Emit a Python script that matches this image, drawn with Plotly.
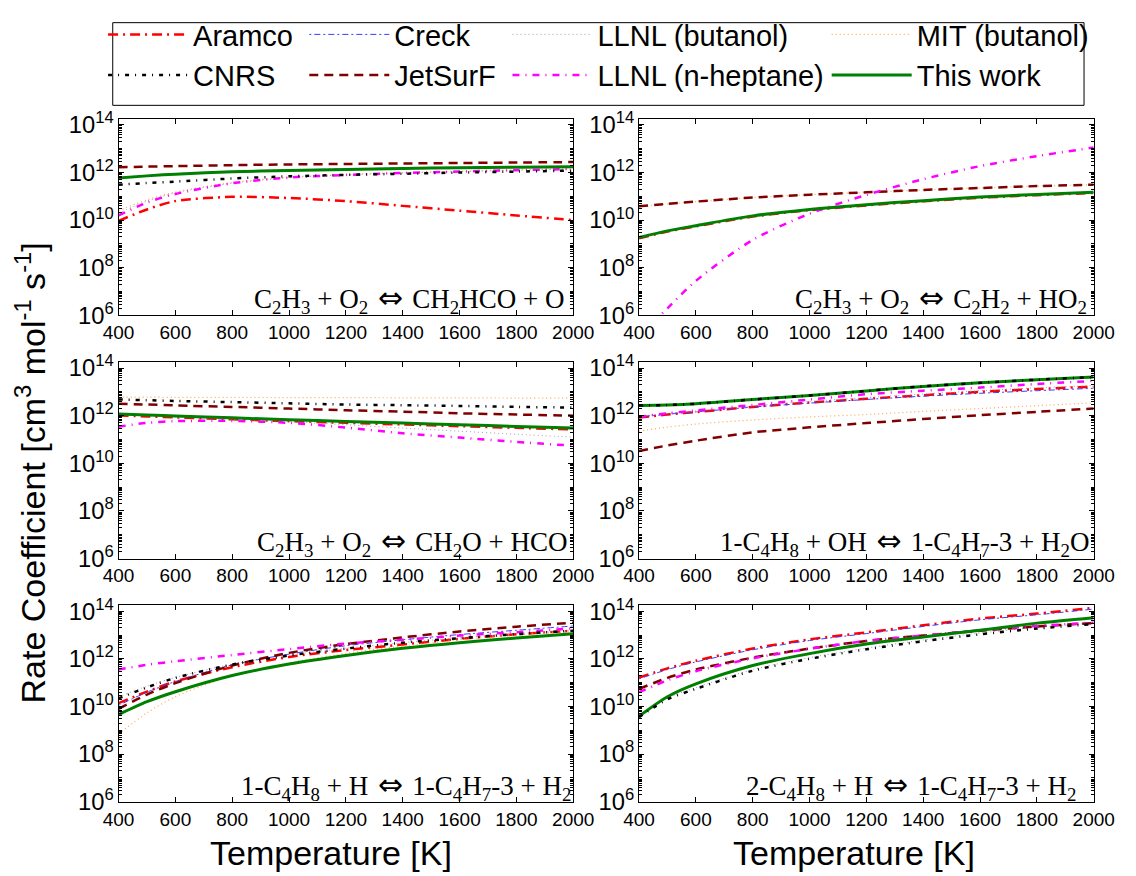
import plotly.graph_objects as go

W, H = 1136, 876

# Temperature grid [K]
T = [400, 500, 600, 800, 1000, 1200, 1400, 1600, 1800, 2000]

# log10 of rate coefficients [cm3 mol-1 s-1] on the grid T
# --- C2H3 + O2 <=> CH2HCO + O
p1_aramco = [9.97, 10.45, 10.80, 10.98, 10.93, 10.80, 10.60, 10.40, 10.20, 10.00]
p1_creck = [11.79, 11.88, 11.95, 12.05, 12.11, 12.15, 12.19, 12.22, 12.24, 12.26]
p1_llnl_but = [10.30, 10.80, 11.15, 11.55, 11.78, 11.90, 11.98, 12.04, 12.10, 12.14]
p1_mit = [10.40, 10.85, 11.18, 11.58, 11.80, 11.92, 12.00, 12.06, 12.11, 12.15]
p1_cnrs = [11.49, 11.56, 11.62, 11.75, 11.84, 11.90, 11.95, 12.00, 12.04, 12.08]
p1_jetsurf = [12.22, 12.25, 12.27, 12.31, 12.34, 12.36, 12.38, 12.40, 12.42, 12.44]
p1_llnl_hep = [10.20, 10.74, 11.10, 11.55, 11.79, 11.90, 11.98, 12.04, 12.10, 12.15]
p1_this = [11.77, 11.86, 11.93, 12.03, 12.09, 12.13, 12.17, 12.20, 12.22, 12.24]

# --- C2H3 + O2 <=> C2H2 + HO2
p2_aramco = [9.24, 9.52, 9.74, 10.15, 10.42, 10.62, 10.79, 10.94, 11.05, 11.14]
p2_creck = [9.27, 9.55, 9.77, 10.18, 10.45, 10.65, 10.82, 10.97, 11.08, 11.17]
p2_llnl_but = [9.27, 9.55, 9.77, 10.18, 10.45, 10.65, 10.82, 10.97, 11.08, 11.17]
p2_mit = [10.58, 10.68, 10.78, 10.95, 11.07, 11.17, 11.27, 11.35, 11.43, 11.49]
p2_cnrs = None
p2_jetsurf = [10.58, 10.68, 10.78, 10.95, 11.07, 11.17, 11.27, 11.35, 11.43, 11.49]
p2_llnl_hep = [5.10, 6.30, 7.45, 9.17, 10.27, 11.06, 11.72, 12.27, 12.69, 13.05]
p2_this = [9.27, 9.55, 9.77, 10.18, 10.45, 10.65, 10.82, 10.97, 11.08, 11.17]

# --- C2H3 + O2 <=> CH2O + HCO
p3_aramco = [12.01, 11.97, 11.93, 11.85, 11.77, 11.70, 11.63, 11.56, 11.49, 11.42]
p3_creck = [12.07, 12.03, 11.99, 11.91, 11.83, 11.76, 11.69, 11.62, 11.55, 11.48]
p3_llnl_but = [12.05, 12.00, 11.95, 11.86, 11.75, 11.62, 11.48, 11.35, 11.22, 11.10]
p3_mit = [12.78, 12.78, 12.77, 12.77, 12.76, 12.76, 12.75, 12.75, 12.74, 12.74]
p3_cnrs = [12.68, 12.65, 12.62, 12.57, 12.52, 12.47, 12.44, 12.41, 12.37, 12.34]
p3_jetsurf = [12.50, 12.47, 12.43, 12.37, 12.30, 12.23, 12.17, 12.10, 12.05, 12.00]
p3_llnl_hep = [11.54, 11.70, 11.77, 11.78, 11.70, 11.50, 11.26, 11.08, 10.90, 10.74]
p3_this = [12.07, 12.03, 11.99, 11.91, 11.83, 11.76, 11.69, 11.62, 11.55, 11.48]

# --- 1-C4H8 + OH <=> 1-C4H7-3 + H2O
p4_aramco = [11.92, 12.05, 12.15, 12.37, 12.55, 12.71, 12.86, 13.00, 13.12, 13.22]
p4_creck = [11.95, 12.06, 12.16, 12.36, 12.53, 12.68, 12.82, 12.94, 13.05, 13.15]
p4_llnl_but = [11.97, 12.10, 12.20, 12.42, 12.60, 12.76, 12.91, 13.05, 13.17, 13.27]
p4_mit = [11.35, 11.52, 11.65, 11.82, 11.95, 12.05, 12.18, 12.30, 12.42, 12.54]
p4_cnrs = [12.43, 12.45, 12.50, 12.68, 12.85, 13.04, 13.23, 13.38, 13.51, 13.62]
p4_jetsurf = [10.52, 10.75, 10.95, 11.30, 11.51, 11.69, 11.86, 12.02, 12.16, 12.30]
p4_llnl_hep = [11.95, 12.10, 12.22, 12.45, 12.68, 12.90, 13.05, 13.18, 13.33, 13.46]
p4_this = [12.43, 12.45, 12.50, 12.68, 12.85, 13.04, 13.23, 13.38, 13.51, 13.62]

# --- 1-C4H8 + H <=> 1-C4H7-3 + H2
p5_aramco = [10.14, 10.62, 11.05, 11.65, 12.08, 12.37, 12.60, 12.84, 13.03, 13.18]
p5_creck = [10.05, 10.60, 11.05, 11.75, 12.20, 12.55, 12.80, 13.02, 13.20, 13.38]
p5_llnl_but = [10.40, 10.85, 11.22, 11.78, 12.16, 12.45, 12.68, 12.88, 13.05, 13.20]
p5_mit = [8.85, 9.73, 10.41, 11.29, 11.83, 12.23, 12.54, 12.80, 13.00, 13.14]
p5_cnrs = [10.34, 10.80, 11.20, 11.76, 12.14, 12.43, 12.68, 12.87, 13.04, 13.18]
p5_jetsurf = [9.90, 10.50, 10.98, 11.72, 12.25, 12.62, 12.90, 13.15, 13.35, 13.52]
p5_llnl_hep = [11.55, 11.75, 11.90, 12.16, 12.41, 12.64, 12.80, 12.98, 13.12, 13.28]
p5_this = [9.66, 10.20, 10.62, 11.30, 11.78, 12.14, 12.44, 12.68, 12.87, 13.05]

# --- 2-C4H8 + H <=> 1-C4H7-3 + H2
p6_aramco = [11.21, 11.60, 11.92, 12.43, 12.82, 13.11, 13.41, 13.69, 13.90, 14.14]
p6_creck = [11.16, 11.55, 11.87, 12.38, 12.77, 13.06, 13.36, 13.64, 13.85, 14.09]
p6_llnl_but = [9.62, 10.35, 10.79, 11.55, 12.05, 12.45, 12.79, 13.08, 13.32, 13.51]
p6_mit = [9.56, 10.38, 10.92, 11.69, 12.19, 12.59, 12.89, 13.17, 13.47, 13.70]
p6_cnrs = [9.55, 10.30, 10.74, 11.50, 12.00, 12.40, 12.74, 13.03, 13.27, 13.46]
p6_jetsurf = [10.74, 11.20, 11.55, 12.05, 12.43, 12.75, 12.98, 13.18, 13.36, 13.50]
p6_llnl_hep = [10.60, 11.10, 11.48, 12.02, 12.42, 12.75, 12.98, 13.20, 13.38, 13.52]
p6_this = [9.59, 10.41, 10.95, 11.72, 12.22, 12.62, 12.92, 13.20, 13.50, 13.73]

ARROW = '<span style="font-family:DejaVu Sans;font-size:30px"> \u21d4 </span>'
reactions = [
    "C<sub>2</sub>H<sub>3</sub> + O<sub>2</sub>" + ARROW + "CH<sub>2</sub>HCO + O",
    "C<sub>2</sub>H<sub>3</sub> + O<sub>2</sub>" + ARROW + "C<sub>2</sub>H<sub>2</sub> + HO<sub>2</sub>",
    "C<sub>2</sub>H<sub>3</sub> + O<sub>2</sub>" + ARROW + "CH<sub>2</sub>O + HCO",
    "1-C<sub>4</sub>H<sub>8</sub> + OH" + ARROW + "1-C<sub>4</sub>H<sub>7</sub>-3 + H<sub>2</sub>O",
    "1-C<sub>4</sub>H<sub>8</sub> + H" + ARROW + "1-C<sub>4</sub>H<sub>7</sub>-3 + H<sub>2</sub>",
    "2-C<sub>4</sub>H<sub>8</sub> + H" + ARROW + "1-C<sub>4</sub>H<sub>7</sub>-3 + H<sub>2</sub>",
]

mechanisms = ["Aramco", "Creck", "LLNL (butanol)", "MIT (butanol)",
              "CNRS", "JetSurF", "LLNL (n-heptane)", "This work"]

panels = [
    [p1_aramco, p1_creck, p1_llnl_but, p1_mit, p1_cnrs, p1_jetsurf, p1_llnl_hep, p1_this],
    [p2_aramco, p2_creck, p2_llnl_but, p2_mit, p2_cnrs, p2_jetsurf, p2_llnl_hep, p2_this],
    [p3_aramco, p3_creck, p3_llnl_but, p3_mit, p3_cnrs, p3_jetsurf, p3_llnl_hep, p3_this],
    [p4_aramco, p4_creck, p4_llnl_but, p4_mit, p4_cnrs, p4_jetsurf, p4_llnl_hep, p4_this],
    [p5_aramco, p5_creck, p5_llnl_but, p5_mit, p5_cnrs, p5_jetsurf, p5_llnl_hep, p5_this],
    [p6_aramco, p6_creck, p6_llnl_but, p6_mit, p6_cnrs, p6_jetsurf, p6_llnl_hep, p6_this],
]

line_style = {
    "Aramco": dict(color="#FF0000", width=2.5, dash="10px,5px,2px,5px"),
    "Creck": dict(color="#3C3CFF", width=1, dash="2px,3px,6px,3px"),
    "LLNL (butanol)": dict(color="#9C9CB8", width=1, dash="1px,3px"),
    "MIT (butanol)": dict(color="#FFA54F", width=1.2, dash="1px,3px"),
    "CNRS": dict(color="#000000", width=2.5, dash="4px,6px,1px,6px"),
    "JetSurF": dict(color="#800000", width=2.5, dash="9px,6px"),
    "LLNL (n-heptane)": dict(color="#FF00FF", width=2.5, dash="7px,6px,1px,6px"),
    "This work": dict(color="#008000", width=3, dash="solid"),
}

# legend column / row for each mechanism
legend_slot = {
    "Aramco": ("legend", 1), "CNRS": ("legend", 2),
    "Creck": ("legend2", 1), "JetSurF": ("legend2", 2),
    "LLNL (butanol)": ("legend3", 1), "LLNL (n-heptane)": ("legend3", 2),
    "MIT (butanol)": ("legend4", 1), "This work": ("legend4", 2),
}

draw_order = ["Aramco", "Creck", "LLNL (butanol)", "MIT (butanol)",
              "JetSurF", "LLNL (n-heptane)", "This work", "CNRS"]

# panel boxes in pixels: (left, right, top, bottom)
cols = [(106, 576), (644, 1114)]
rows = [(111, 313), (361, 563), (611, 813)]

fig = go.Figure()

for i, series in enumerate(panels):
    ax = "" if i == 0 else str(i + 1)
    for name in draw_order:
        vals = series[mechanisms.index(name)]
        if vals is None:
            continue
        leg, rank = legend_slot[name]
        fig.add_trace(go.Scatter(
            x=T, y=[10 ** v for v in vals], mode="lines", name=name,
            line=dict(shape="spline", smoothing=0.8, **line_style[name]),
            xaxis="x" + ax, yaxis="y" + ax,
            legend=leg, legendrank=rank, legendgroup=name,
            showlegend=(i == 0), hoverinfo="skip",
        ))

tick_font = dict(family="Liberation Sans, Arial, sans-serif", size=19, color="black")
layout = dict(
    width=W, height=H, margin=dict(l=0, r=0, t=0, b=0),
    paper_bgcolor="white", plot_bgcolor="white",
    showlegend=True,
)

for i in range(6):
    r, c = divmod(i, 2)
    x0, x1 = cols[c]
    y0, y1 = rows[r]
    ax = "" if i == 0 else str(i + 1)
    layout["xaxis" + ax] = dict(
        domain=[x0 / W, x1 / W], range=[400, 2000], anchor="y" + ax,
        tickmode="linear", tick0=400, dtick=200,
        ticks="inside", ticklen=5, tickcolor="black",
        showline=True, linecolor="black", linewidth=1, mirror="allticks",
        showgrid=False, zeroline=False, tickfont=tick_font,
    )
    layout["yaxis" + ax] = dict(
        domain=[1 - y1 / H, 1 - y0 / H], type="log", range=[6, 14.25],
        anchor="x" + ax, dtick=2, exponentformat="power",
        ticks="inside", ticklen=5, tickcolor="black",
        minor=dict(ticks="inside", ticklen=3, dtick="D1", tickcolor="black", showgrid=False),
        showline=True, linecolor="black", linewidth=1, mirror="allticks",
        showgrid=False, zeroline=False, tickfont=tick_font,
    )

leg_font = dict(family="Liberation Sans, Arial, sans-serif", size=29, color="black")
leg_x = [90, 298, 508, 838]
for k, lname in enumerate(["legend", "legend2", "legend3", "legend4"]):
    layout[lname] = dict(
        x=leg_x[k] / W, y=1 + 2 / H, xanchor="left", yanchor="top",
        orientation="v", font=leg_font, bgcolor="rgba(0,0,0,0)",
        borderwidth=0, itemwidth=80, tracegroupgap=0,
        traceorder="normal",
    )

annotations = []
label_x = [0.986, 0.99, 0.993, 0.995, 1.0, 0.965]
for i, txt in enumerate(reactions):
    ax = "" if i == 0 else str(i + 1)
    annotations.append(dict(
        text=txt, xref="x" + ax + " domain", yref="y" + ax + " domain",
        x=label_x[i], y=-0.025, xanchor="right", yanchor="bottom",
        showarrow=False,
        font=dict(family="Liberation Serif, Times New Roman, serif", size=27, color="black"),
    ))

axis_title_font = dict(family="Liberation Sans, Arial, sans-serif", size=34, color="black")
annotations.append(dict(
    text="Rate Coefficient [cm<sup>3</sup> mol<sup>-1</sup> s<sup>-1</sup>]",
    xref="paper", yref="paper", x=15 / W, y=1 - 475 / H, textangle=-90,
    showarrow=False, xanchor="center", yanchor="middle",
    font=axis_title_font,
))
for cx in (326, 866):
    annotations.append(dict(
        text="Temperature [K]", xref="paper", yref="paper",
        x=cx / W, y=1 - 866 / H, showarrow=False,
        xanchor="center", yanchor="middle",
        font=axis_title_font,
    ))
layout["annotations"] = annotations

layout["shapes"] = [dict(
    type="rect", xref="paper", yref="paper",
    x0=100 / W, x1=1104 / W, y0=1 - 97 / H, y1=1 - 12 / H,
    line=dict(color="black", width=1), fillcolor="rgba(0,0,0,0)",
)]

fig.update_layout(**layout)
fig.write_html("out.html")
